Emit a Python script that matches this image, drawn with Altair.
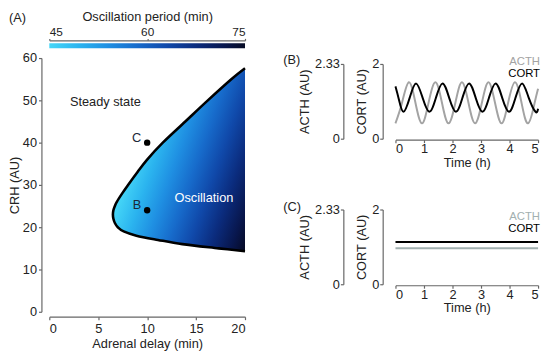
import altair as alt
import pandas as pd

# ---------------- data ----------------
# Panel A: boundary of the oscillation region (CRH vs adrenal delay)
crh_boundary = [14.3, 15, 16, 17, 18, 19, 20, 21, 22, 23, 24, 25, 26, 28, 30, 33, 36, 40, 45, 50, 55, 57.6]
delay_boundary = [20, 17.3, 13.6, 11.1, 8.9, 7.6, 7.0, 6.7, 6.55, 6.5, 6.55, 6.7, 6.9, 7.45, 8.05, 9.0, 10.0, 11.6, 13.9, 16.2, 18.6, 20]
delay_max = 20
point_names = ["B", "C"]
point_delay = [10, 10]
point_crh = [24, 40]
region_names = ["Steady state", "Oscillation"]
region_delay = [5.73, 15.8]
region_crh = [48.6, 26.0]
period_range = [45, 75]
period_ticks = [45, 60, 75]
delay_ticks = [0, 5, 10, 15, 20]
crh_ticks = [0, 10, 20, 30, 40, 50, 60]

# Panels B / C: hormone time courses
time_ticks = [0, 1, 2, 3, 4, 5]
acth_ticks = [0, 2.33]
cort_ticks = [0, 2]
b_cort_time = [0, 0.12, 0.28, 0.5, 0.72, 0.95, 1.19, 1.42, 1.65, 1.88, 2.12, 2.35, 2.58, 2.81,
               3.05, 3.28, 3.51, 3.74, 3.98, 4.21, 4.44, 4.67, 4.91, 5.0]
b_cort = [1.40, 1.05, 0.72, 1.10, 1.48, 1.10, 0.72, 1.10, 1.48, 1.10, 0.72, 1.10, 1.48, 1.10,
          0.72, 1.10, 1.48, 1.10, 0.72, 1.10, 1.48, 1.10, 0.72, 0.80]
b_acth_time = [0, 0.23, 0.47, 0.70, 0.93, 1.16, 1.40, 1.63, 1.86, 2.10, 2.33, 2.56, 2.79, 3.03,
               3.26, 3.49, 3.72, 3.95, 4.19, 4.42, 4.65, 4.88, 5.0]
b_acth = [0.48, 1.12, 1.76, 1.12, 0.48, 1.12, 1.76, 1.12, 0.48, 1.12, 1.76, 1.12, 0.48, 1.12,
          1.76, 1.12, 0.48, 1.12, 1.76, 1.12, 0.48, 1.12, 1.56]
c_time = [0, 5]
c_acth = [1.12, 1.12]
c_cort = [1.13, 1.13]
hormones = ["ACTH", "CORT"]
panel_labels = ["(A)", "(B)", "(C)"]

# ---------------- styling ----------------
FONT = "Liberation Sans"
TXT = "#222222"
AXC = "#666666"
STOPS = [(0.00, "#45d6f7"), (0.15, "#2bb4ef"), (0.30, "#1f8fe2"), (0.45, "#176bcb"),
         (0.60, "#1049aa"), (0.75, "#0b2c7e"), (0.90, "#08164c"), (1.00, "#060a24")]
stops = [{"offset": o, "color": c} for o, c in STOPS]
grad_bar = {"gradient": "linear", "stops": stops, "x1": 0, "x2": 1, "y1": 0, "y2": 0}
grad_area = {"gradient": "linear", "stops": stops, "x1": 0, "y1": 0.81, "x2": 0.88, "y2": 1.243}

# ---------------- panel A ----------------
WA, HA = 199, 258
bdf = pd.DataFrame({"crh": crh_boundary, "delay": delay_boundary})
pdf = pd.DataFrame({"name": point_names, "delay": point_delay, "crh": point_crh})
rdf = pd.DataFrame({"name": region_names, "delay": region_delay, "crh": region_crh})

xA = alt.X("delay:Q", scale=alt.Scale(domain=[0, delay_max], nice=False),
           axis=alt.Axis(orient="bottom", values=delay_ticks, title="Adrenal delay (min)",
                         offset=5, labelPadding=3, titlePadding=2))
yA = alt.Y("crh:Q", scale=alt.Scale(domain=[0, 60], nice=False),
           axis=alt.Axis(values=crh_ticks, title="CRH (AU)", offset=8, labelPadding=2, titlePadding=1))

area = alt.Chart(bdf).mark_area(orient="horizontal", interpolate="cardinal", color=grad_area).encode(
    x=xA, x2=alt.datum(delay_max), y=yA)
edge = alt.Chart(bdf).mark_line(interpolate="cardinal", color="black", strokeWidth=2.6).encode(
    x=xA, y=yA, order=alt.Order("crh:Q"))
pts = alt.Chart(pdf).mark_circle(size=42, color="black", opacity=1).encode(x=xA, y=yA)
ptxt = alt.Chart(pdf).mark_text(align="right", dx=-6, dy=-1, baseline="alphabetic", fontSize=13,
                                font=FONT, color="#1b2838").encode(x=xA, y=yA, text="name:N")
rtxt = alt.Chart(rdf).mark_text(align="center", baseline="alphabetic", fontSize=13, font=FONT).encode(
    x=xA, y=yA, text="name:N",
    color=alt.Color("name:N", scale=alt.Scale(domain=region_names, range=[TXT, "white"]), legend=None))

cbar_df = pd.DataFrame({"lo": [period_range[0]], "hi": [period_range[1]]})
cbar = alt.Chart(cbar_df).mark_rect(color=grad_bar).encode(
    x=alt.X("lo:Q", scale=alt.Scale(domain=period_range, nice=False),
            axis=alt.Axis(orient="top", values=period_ticks, title="Oscillation period (min)",
                          offset=18, tickSize=2, labelPadding=0, titlePadding=2, labelFontSize=12)),
    x2="hi:Q", y=alt.value(-15), y2=alt.value(-10))
labA = alt.Chart(pd.DataFrame({"t": [panel_labels[0]]})).mark_text(
    align="left", baseline="alphabetic", fontSize=13, font=FONT, color=TXT).encode(
    x=alt.value(-41), y=alt.value(-37), text="t:N")

panelA = alt.layer(alt.layer(area, edge, pts, ptxt, rtxt), cbar, labA).resolve_scale(
    x="independent").properties(width=WA, height=HA)

# ---------------- panels B and C ----------------
WB = 145


def hormone_panel(acth_t, acth_v, cort_t, cort_v, acth_color, height, yrange, label, label_y, name_y):
    xT = alt.X("t:Q", scale=alt.Scale(domain=[0, 5], nice=False),
               axis=alt.Axis(values=time_ticks, title="Time (h)", offset=1, labelPadding=0, titlePadding=1))
    adf = pd.DataFrame({"t": acth_t, "v": acth_v})
    cdf = pd.DataFrame({"t": cort_t, "v": cort_v})
    a_line = alt.Chart(adf).mark_line(color=acth_color, strokeWidth=2, interpolate="natural").encode(
        x=xT,
        y=alt.Y("v:Q", scale=alt.Scale(domain=[0, 2.33], range=yrange, nice=False),
                axis=alt.Axis(orient="left", offset=53, values=acth_ticks, format=".3~g",
                              title="ACTH (AU)", labelPadding=1, titlePadding=3)))
    c_line = alt.Chart(cdf).mark_line(color="black", strokeWidth=2, interpolate="natural").encode(
        x=xT,
        y=alt.Y("v:Q", scale=alt.Scale(domain=[0, 2], range=yrange, nice=False),
                axis=alt.Axis(orient="left", offset=13, values=cort_ticks, format=".3~g",
                              title="CORT (AU)", labelPadding=1, titlePadding=3)))
    t1 = alt.Chart(pd.DataFrame({"n": [hormones[0]]})).mark_text(
        align="right", baseline="alphabetic", fontSize=11.5, font=FONT, color=acth_color).encode(
        x=alt.value(WB + 2), y=alt.value(name_y[0]), text="n:N")
    t2 = alt.Chart(pd.DataFrame({"n": [hormones[1]]})).mark_text(
        align="right", baseline="alphabetic", fontSize=11.5, font=FONT, color="black").encode(
        x=alt.value(WB + 2), y=alt.value(name_y[1]), text="n:N")
    lab = alt.Chart(pd.DataFrame({"n": [label]})).mark_text(
        align="left", baseline="alphabetic", fontSize=13, font=FONT, color=TXT).encode(
        x=alt.value(-114), y=alt.value(label_y), text="n:N")
    return alt.layer(a_line, c_line, t1, t2, lab).resolve_scale(y="independent").properties(
        width=WB, height=height)


panelB = hormone_panel(b_acth_time, b_acth, b_cort_time, b_cort, "#a3a3a3", 82, [82, 6],
                       panel_labels[1], 6, [7.5, 19])
panelC = hormone_panel(c_time, c_acth, c_time, c_cort, "#a2b0b0", 76, [76, 0],
                       panel_labels[2], 2, [11, 23])

right = alt.vconcat(panelB, panelC, spacing=72, bounds="flush")
chart = alt.hconcat(panelA, right, spacing=153, bounds="flush").properties(padding=0).configure_view(
    stroke=None).configure_axis(
    grid=False, domainColor=AXC, tickColor=AXC, labelColor=TXT, titleColor=TXT,
    labelFont=FONT, titleFont=FONT, labelFontSize=13, titleFontSize=13, titleFontWeight="normal",
    tickSize=3, domainWidth=1.2, tickWidth=1.2).configure_text(font=FONT)

chart.save("out.html", embed_options={"renderer": "svg", "actions": False})
